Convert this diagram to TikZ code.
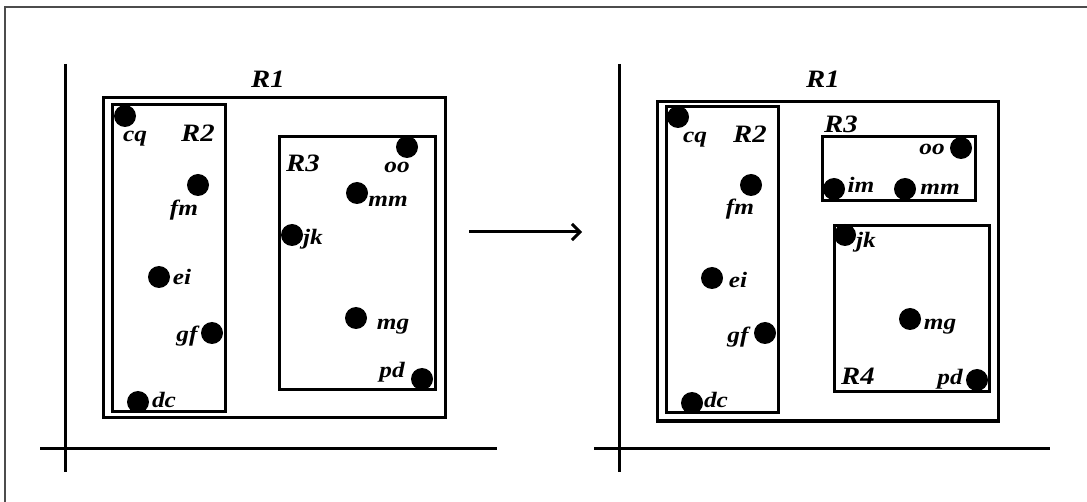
\documentclass[tikz,border=0pt]{standalone}
\usepackage{fontspec}
\setmainfont{Liberation Serif}
\usepackage{graphicx}
\usetikzlibrary{arrows.meta}
\newcommand{\lt}[1]{\scalebox{1.15}[1]{\fontsize{22}{22}\selectfont\bfseries\itshape #1}}
\newcommand{\rt}[1]{\scalebox{1.15}[1]{\fontsize{25}{25}\selectfont\bfseries\itshape #1}}
\tikzset{
  dot/.style={circle,fill=black,inner sep=0pt,minimum size=22pt},
  lbl/.style={inner sep=0pt,anchor=base},
  box/.style={draw=black,line width=3pt},
  axis/.style={draw=black,line width=3pt},
  frameline/.style={draw=black!70,line width=2.5pt},
  conn/.style={draw=black,line width=3pt,-{Straight Barb[length=8pt,width=16pt,line width=3pt]}}
}
\begin{document}
\begin{tikzpicture}[x=1pt,y=-1pt]
\useasboundingbox (0,0) rectangle (1087,502);
\fill[white] (0,0) rectangle (1087,502);
% frame
\draw[frameline] (5,502) -- (5,7) -- (1087,7);
% ---------- left panel ----------
\draw[axis] (65,64) -- (65,472);
\draw[axis] (40,448) -- (497,448);
\draw[box] (103,98) rectangle (445,418);
\draw[box] (112,105) rectangle (225,412);
\draw[box] (279,137) rectangle (435,390);
\node[lbl] (lR1) at (268,88) {\rt{R1}};
\node[lbl] (lR2) at (198,142) {\rt{R2}};
\node[lbl] (lR3) at (303,172) {\rt{R3}};
\node[dot] (lcq) at (125,116) {};
\node[lbl] (lcqt) at (135,142) {\lt{cq}};
\node[dot] (lfm) at (198,185) {};
\node[lbl] (lfmt) at (184,216) {\lt{fm}};
\node[dot] (lei) at (159,277) {};
\node[lbl] (leit) at (182,285) {\lt{ei}};
\node[dot] (lgf) at (212,333) {};
\node[lbl] (lgft) at (187,342) {\lt{gf}};
\node[dot] (ldc) at (138,402) {};
\node[lbl] (ldct) at (164,408) {\lt{dc}};
\node[dot] (loo) at (407,147) {};
\node[lbl] (loot) at (397,173) {\lt{oo}};
\node[dot] (lmm) at (357,193) {};
\node[lbl] (lmmt) at (388,207) {\lt{mm}};
\node[dot] (ljk) at (292,235) {};
\node[lbl] (ljkt) at (313,245) {\lt{jk}};
\node[dot] (lmg) at (356,318) {};
\node[lbl] (lmgt) at (393,330) {\lt{mg}};
\node[dot] (lpd) at (422,379) {};
\node[lbl] (lpdt) at (392,378) {\lt{pd}};
% ---------- arrow ----------
\coordinate (a1) at (469,232);
\coordinate (a2) at (582,232);
\draw[conn] (a1) -- (a2);
% ---------- right panel ----------
\draw[axis] (619,64) -- (619,472);
\draw[axis] (594,448) -- (1050,448);
\draw[box] (657,102) rectangle (998,421);
\draw[box] (666,107) rectangle (778,413);
\draw[box] (822,137) rectangle (975,201);
\draw[box] (834,226) rectangle (989,392);
\node[lbl] (rR1) at (823,88) {\rt{R1}};
\node[lbl] (rR2) at (750,143) {\rt{R2}};
\node[lbl] (rR3) at (841,133) {\rt{R3}};
\node[lbl] (rR4) at (858,385) {\rt{R4}};
\node[dot] (rcq) at (678,117) {};
\node[lbl] (rcqt) at (695,143) {\lt{cq}};
\node[dot] (rfm) at (751,185) {};
\node[lbl] (rfmt) at (740,215) {\lt{fm}};
\node[dot] (rei) at (712,278) {};
\node[lbl] (reit) at (738,288) {\lt{ei}};
\node[dot] (rgf) at (765,333) {};
\node[lbl] (rgft) at (738,343) {\lt{gf}};
\node[dot] (rdc) at (692,403) {};
\node[lbl] (rdct) at (716,408) {\lt{dc}};
\node[dot] (roo) at (961,148) {};
\node[lbl] (root) at (932,155) {\lt{oo}};
\node[dot] (rim) at (834,189) {};
\node[lbl] (rimt) at (861,193) {\lt{im}};
\node[dot] (rmm) at (905,189) {};
\node[lbl] (rmmt) at (940,195) {\lt{mm}};
\node[dot] (rjk) at (845,235) {};
\node[lbl] (rjkt) at (866,248) {\lt{jk}};
\node[dot] (rmg) at (910,319) {};
\node[lbl] (rmgt) at (940,330) {\lt{mg}};
\node[dot] (rpd) at (977,380) {};
\node[lbl] (rpdt) at (950,385) {\lt{pd}};
\end{tikzpicture}
\end{document}
